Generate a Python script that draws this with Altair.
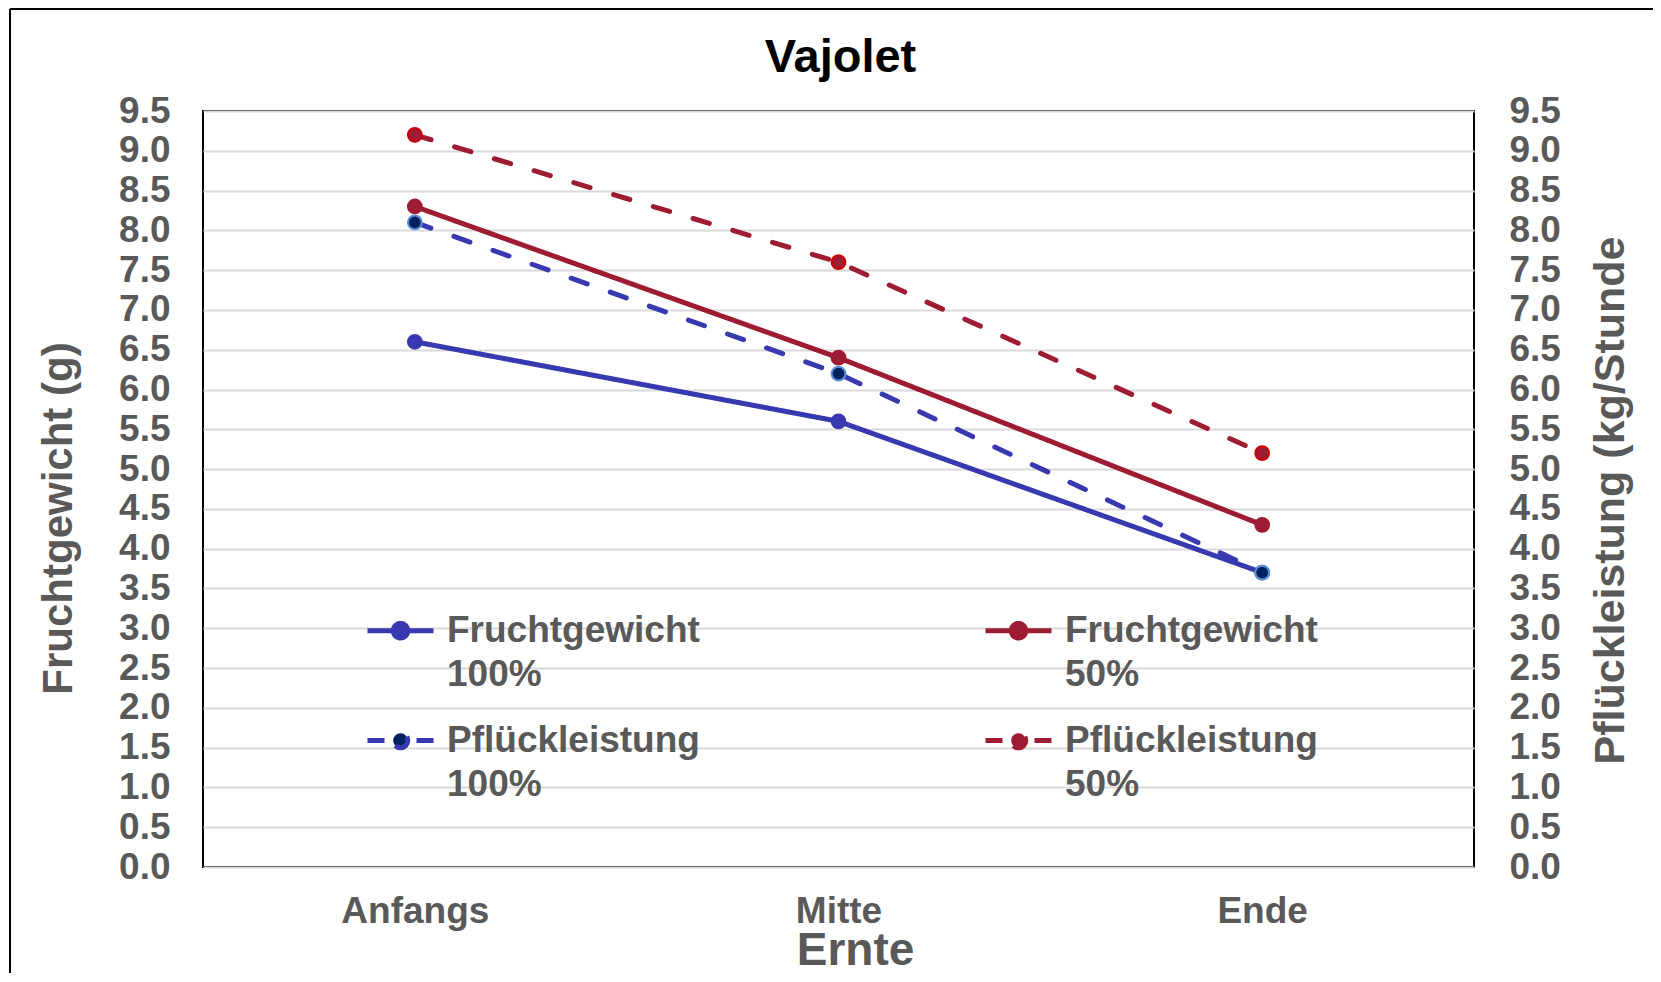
import json
import altair as alt
import pandas as pd

# ---- data ----
stages = ["Anfangs", "Mitte", "Ende"]
stage_idx = [0, 1, 2]
series_names = ["Fruchtgewicht 100%", "Pflückleistung 100%",
                "Fruchtgewicht 50%", "Pflückleistung 50%"]
frucht_100 = [6.6, 5.6, 3.7]
pflueck_100 = [8.1, 6.2, 3.7]
frucht_50 = [8.3, 6.4, 4.3]
pflueck_50 = [9.2, 7.6, 5.2]
y_ticks = [0.0, 0.5, 1.0, 1.5, 2.0, 2.5, 3.0, 3.5, 4.0, 4.5,
           5.0, 5.5, 6.0, 6.5, 7.0, 7.5, 8.0, 8.5, 9.0, 9.5]

rows = []
for name, vals, metric in [
    (series_names[0], frucht_100, "F"),
    (series_names[1], pflueck_100, "P"),
    (series_names[2], frucht_50, "F"),
    (series_names[3], pflueck_50, "P"),
]:
    for i, s, v in zip(stage_idx, stages, vals):
        rows.append({"idx": i, "stufe": s, "serie": name, "metric": metric, "wert": v})
df = pd.DataFrame(rows)

# ---- styles ----
FONT = "Liberation Sans"
GRAY = "#595959"
BLUE = "#3838B0"
RED = "#9E1C33"
line_colors = [BLUE, BLUE, RED, RED]
dashes = [[1, 0], [17, 24.5], [1, 0], [17, 24.5]]
marker_fill = [BLUE, "#002060", RED, RED]
marker_stroke = [BLUE, "#5B8FD6", RED, "#D00000"]

# legend symbol: two line pieces (each restarts its dash) and a dot in the middle
sym_path = ("M-1,0H-0.28M1,0H0.28"
            "M0.22,0A0.22,0.22,0,1,1,-0.22,0A0.22,0.22,0,1,1,0.22,0Z")

legend = alt.Legend(
    title=None, orient="none", legendX=162, legendY=484, columns=2,
    columnPadding=275, rowPadding=12, padding=0,
    symbolType=sym_path, symbolSize=4356, symbolStrokeWidth=5, symbolOpacity=1,
    labelFont=FONT, labelFontSize=37, labelFontWeight="bold", labelColor=GRAY,
    labelOffset=11, labelLimit=600,
    labelExpr="split(datum.label, ' ')",
)

x_enc = alt.X(
    "idx:Q",
    scale=alt.Scale(domain=[-0.5, 2.5], nice=False, zero=False),
    axis=alt.Axis(
        values=stage_idx,
        labelExpr=f"{json.dumps(stages)}[datum.value]",
        grid=False, labelPadding=26, labelFlush=False,
        title="Ernte", titleFontSize=46, titleX=652, titleY=83,
        titleBaseline="middle", titleAlign="center",
    ),
)

color_enc = alt.Color("serie:N", scale=alt.Scale(domain=series_names, range=line_colors), legend=legend)
dash_enc = alt.StrokeDash("serie:N", scale=alt.Scale(domain=series_names, range=dashes), legend=legend)
fill_enc = alt.Fill("serie:N", scale=alt.Scale(domain=series_names, range=marker_fill), legend=legend)
stroke_enc = alt.Stroke("serie:N", scale=alt.Scale(domain=series_names, range=marker_stroke), legend=None)

y_left = alt.Y(
    "wert:Q",
    scale=alt.Scale(domain=[0, 9.5], nice=False, zero=True),
    axis=alt.Axis(
        values=y_ticks, format=".1f", grid=True, gridColor="#D9D9D9", gridWidth=2,
        labelPadding=33, labelFlush=False, labelOverlap=False,
        title="Fruchtgewicht (g)", titleX=-145, titleY=407, titleAngle=-90,
        titleAlign="center", titleBaseline="middle",
    ),
)
y_right = alt.Y(
    "wert:Q",
    scale=alt.Scale(domain=[0, 9.5], nice=False, zero=True),
    axis=alt.Axis(
        orient="right", values=y_ticks, format=".1f", grid=False,
        labelPadding=35, labelFlush=False, labelOverlap=False,
        title="Pflückleistung  (kg/Stunde", titleFontSize=43,
        titleX=136, titleY=389, titleAngle=-90,
        titleAlign="center", titleBaseline="middle",
    ),
)

base = alt.Chart(df)


def series_layer(metric, y_enc):
    src = base.transform_filter(alt.datum.metric == metric)
    lines = src.mark_line(strokeWidth=5, strokeCap="round").encode(
        x=x_enc, y=y_enc, color=color_enc, strokeDash=dash_enc
    )
    pts = src.mark_point(shape="circle", filled=True, size=190, strokeWidth=2, opacity=1).encode(
        x=x_enc, y=y_enc, fill=fill_enc, stroke=stroke_enc
    )
    return alt.layer(lines, pts)


frame_df = pd.DataFrame({"k": [0]})
frame_top = alt.Chart(frame_df).mark_rule(color="black", strokeWidth=2).encode(
    x=alt.value(-193), x2=alt.value(1480), y=alt.value(-102)
)
frame_left = alt.Chart(frame_df).mark_rule(color="black", strokeWidth=2).encode(
    x=alt.value(-193), y=alt.value(-102), y2=alt.value(870)
)

chart = alt.layer(
    frame_top, frame_left,
    series_layer("F", y_left),
    series_layer("P", y_right),
).resolve_scale(y="independent").properties(
    width=1271, height=756,
    title=alt.Title("Vajolet", font=FONT, fontSize=47, fontWeight="bold", color="black",
                    anchor="middle", dx=2, offset=-121, baseline="bottom"),
    autosize=alt.AutoSizeParams(type="none"),
    padding={"left": 195, "top": 103, "right": 179, "bottom": 106},
).configure(
    style={"guide-label": {"lineHeight": 44}}
).configure_view(
    stroke="black", strokeWidth=2
).configure_axis(
    domain=False, ticks=False,
    labelFont=FONT, labelFontSize=37, labelFontWeight="bold", labelColor=GRAY,
    titleFont=FONT, titleFontSize=42, titleFontWeight="bold", titleColor=GRAY,
)

chart.save("out.html", embed_options={"renderer": "svg", "actions": False})
